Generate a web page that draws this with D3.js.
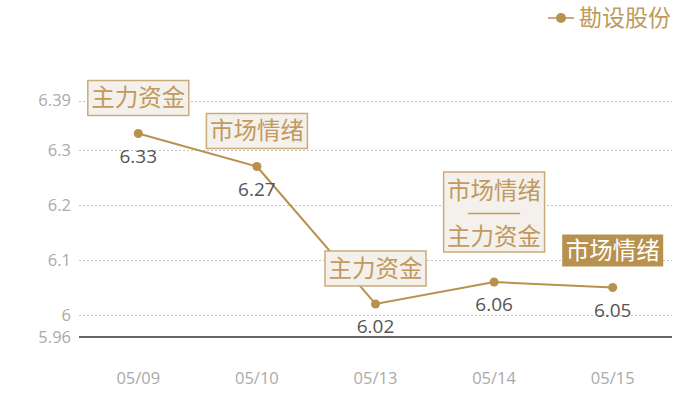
<!DOCTYPE html>
<html><head><meta charset="utf-8">
<script src="https://cdn.jsdelivr.net/npm/d3@7/dist/d3.min.js"></script>
<style>body{margin:0;background:#fff}svg{display:block}</style>
</head><body>
<svg id="c" width="700" height="400"></svg>
<script>
const categories = ["05/09","05/10","05/13","05/14","05/15"];
const values = [6.33, 6.27, 6.02, 6.06, 6.05];
const yTicks = [5.96, 6, 6.1, 6.2, 6.3, 6.39];
const seriesName = "勘设股份";
const annotationLines = [["主力资金"],["市场情绪"],["主力资金"],["市场情绪","主力资金"],["市场情绪"]];
const annotationFilled = [false,false,false,false,true];

const gold = "#b8914f", boxText = "#c09a5e", boxFill = "#f4f0eb", boxStroke = "#cbab7c";
const font = "'Noto Sans CJK SC', 'Noto Sans', sans-serif";
const numFont = "'Open Sans', 'Noto Sans', sans-serif";
const svg = d3.select("#c");
const x = d3.scaleBand().domain(categories).range([79, 672]);
const y = d3.scaleLinear().domain([5.96, 6.39]).range([337, 100.5]);
const cx = d => x(d) + x.bandwidth()/2;

// grid
svg.append("g").selectAll("line").data(yTicks.filter(t => t !== 5.96)).join("line")
  .attr("x1", 79).attr("x2", 672).attr("y1", d => Math.round(y(d)) + 0.5).attr("y2", d => Math.round(y(d)) + 0.5)
  .attr("stroke", "#c4c4c4").attr("stroke-dasharray", "2,2");
// axis line
svg.append("line").attr("x1", 79).attr("x2", 672).attr("y1", y(5.96)).attr("y2", y(5.96))
  .attr("stroke", "#333").attr("stroke-width", 1.3);
// y labels
svg.append("g").selectAll("text").data(yTicks).join("text")
  .attr("x", 71).attr("y", d => y(d)).attr("dy", "0.36em").attr("text-anchor", "end")
  .attr("font-family", numFont).attr("font-size", 16.5).attr("fill", "#aaa").text(d => d);
// x labels
svg.append("g").selectAll("text").data(categories).join("text")
  .attr("x", d => cx(d)).attr("y", 384).attr("text-anchor", "middle")
  .attr("font-family", numFont).attr("font-size", 16.5).attr("fill", "#aaa").text(d => d);

// line
const pts = categories.map((c,i) => [cx(c), y(values[i])]);
svg.append("path").attr("d", d3.line()(pts)).attr("fill","none").attr("stroke", gold).attr("stroke-width", 2);
svg.append("g").selectAll("circle").data(pts).join("circle")
  .attr("cx", d => d[0]).attr("cy", d => d[1]).attr("r", 4.5).attr("fill", gold);
// value labels
svg.append("g").selectAll("text").data(values).join("text")
  .attr("x", (d,i) => pts[i][0]).attr("y", (d,i) => pts[i][1] + 29).attr("text-anchor","middle")
  .attr("font-family", numFont).attr("font-size", 19).attr("fill", "#555").text(d => d.toFixed(2));

// annotations
annotationLines.forEach((lines, i) => {
  const [px, py] = pts[i];
  const filled = annotationFilled[i];
  const w = 101;
  const multi = lines.length > 1;
  const h = multi ? 80 : (filled ? 32 : 35);
  const gap = multi ? 30 : (filled ? 21 : 18);
  const bx = px - w/2, by = py - gap - h;
  svg.append("rect").attr("x", bx).attr("y", by).attr("width", w).attr("height", h)
    .attr("fill", filled ? gold : boxFill).attr("stroke", filled ? "none" : boxStroke).attr("stroke-width", 1.5);
  if (multi) {
    svg.append("text").attr("x", px).attr("y", by + 27).attr("text-anchor","middle")
      .attr("font-family", font).attr("font-size", 23.5).attr("fill", boxText).text(lines[0]);
    svg.append("line").attr("x1", px - 26).attr("x2", px + 26).attr("y1", by + 41.5).attr("y2", by + 41.5)
      .attr("stroke", boxText).attr("stroke-width", 1.6);
    svg.append("text").attr("x", px).attr("y", by + 73).attr("text-anchor","middle")
      .attr("font-family", font).attr("font-size", 23.5).attr("fill", boxText).text(lines[1]);
  } else {
    svg.append("text").attr("x", px).attr("y", by + h/2).attr("dy","0.36em").attr("text-anchor","middle")
      .attr("font-family", font).attr("font-size", 23.5).attr("fill", filled ? "#fff" : boxText).text(lines[0]);
  }
});

// legend
svg.append("line").attr("x1", 548).attr("x2", 574).attr("y1", 18).attr("y2", 18).attr("stroke", gold).attr("stroke-width", 1.5);
svg.append("circle").attr("cx", 561).attr("cy", 18).attr("r", 5).attr("fill", gold);
svg.append("text").attr("x", 579).attr("y", 18).attr("dy","0.36em").attr("font-family", font).attr("font-size", 23)
  .attr("fill", boxText).text(seriesName);
</script>
</body></html>
